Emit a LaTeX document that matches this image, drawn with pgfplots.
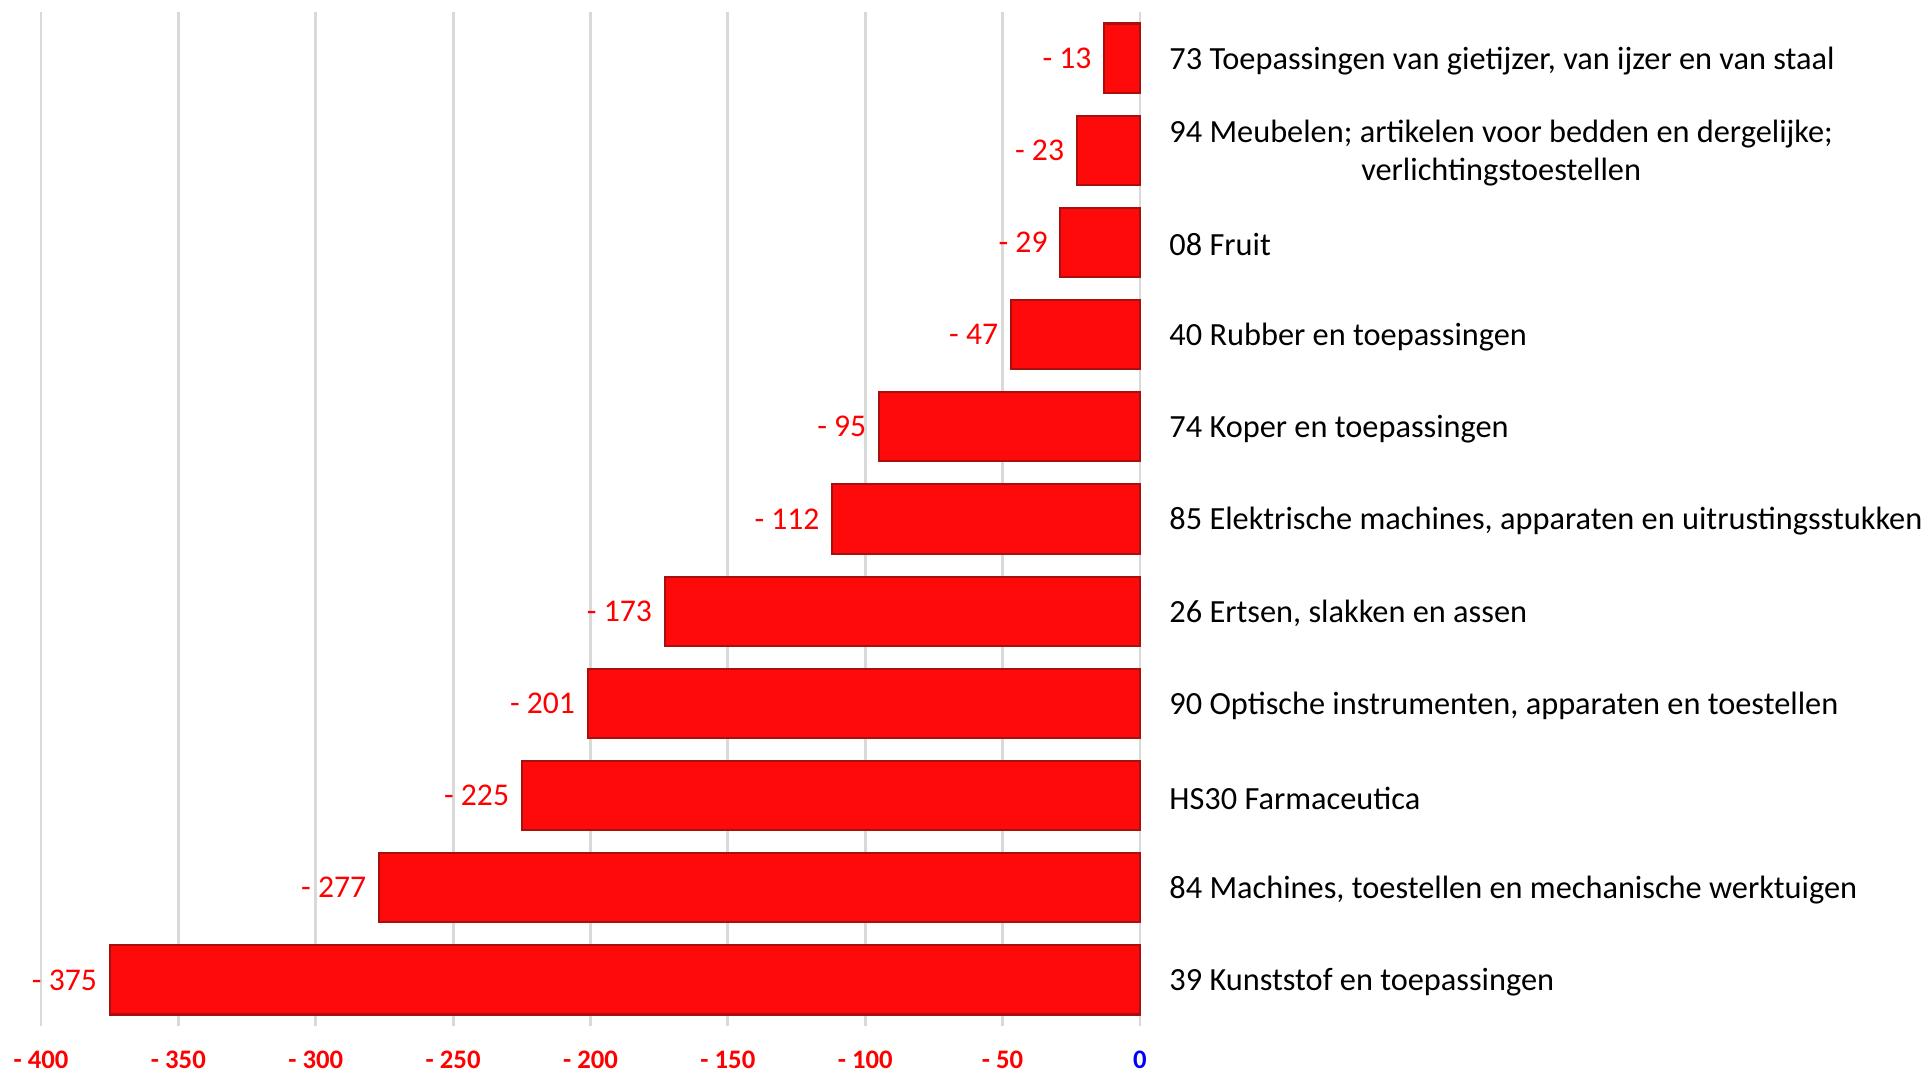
\documentclass[border=0pt]{standalone}
\usepackage{fontspec}
\setmainfont{Carlito}
\usepackage{pgfplots}
\pgfplotsset{compat=1.18}
\definecolor{barred}{HTML}{FF0A0A}
\definecolor{bardark}{HTML}{A81010}
\definecolor{gridgray}{HTML}{D9D9D9}

\begin{document}
\begin{tikzpicture}
\begin{axis}[
  at={(0,0)}, anchor=south west,
  scale only axis,
  width=10.99cm, height=10.14cm,
  xbar, bar width=0.75,
  xmin=-400, xmax=0, ymin=-0.5, ymax=10.5,
  clip=false,
  axis line style={draw=none},
  major tick length=0pt,
  xmajorgrids,
  major grid style={gridgray, line width=0.8pt},
  xtick={-400,-350,-300,-250,-200,-150,-100,-50,0},
  xticklabels={- 400,- 350,- 300,- 250,- 200,- 150,- 100,- 50,\textcolor{blue}{0}},
  xticklabel style={anchor=center, yshift=-0.34cm, text=red,
    font=\bfseries\fontsize{7.6}{9}\selectfont},
  ytick={0,...,10},
  yticklabels={
    39 Kunststof en toepassingen,
    {84 Machines, toestellen en mechanische werktuigen},
    HS30 Farmaceutica,
    {90 Optische instrumenten, apparaten en toestellen},
    {26 Ertsen, slakken en assen},
    {85 Elektrische machines, apparaten en uitrustingsstukken},
    74 Koper en toepassingen,
    40 Rubber en toepassingen,
    08 Fruit,
    {94 Meubelen; artikelen voor bedden en dergelijke;\\verlichtingstoestellen},
    {73 Toepassingen van gietijzer, van ijzer en van staal}
  },
  yticklabel pos=right,
  yticklabel style={anchor=west, align=center, xshift=0.17cm, yshift=-0.025cm,
    text=black, font=\fontsize{9.2}{10.9}\selectfont},
  nodes near coords,
  point meta=explicit symbolic,
  every node near coord/.append style={anchor=east, text=red,
    font=\fontsize{9}{10.5}\selectfont},
]
\addplot[fill=barred, draw=bardark, line width=0.6pt] coordinates {
  (-375,0) [- 375]
  (-277,1) [- 277]
  (-225,2) [- 225]
  (-201,3) [- 201]
  (-173,4) [- 173]
  (-112,5) [- 112]
  (-95,6) [- 95]
  (-47,7) [- 47]
  (-29,8) [- 29]
  (-23,9) [- 23]
  (-13,10) [- 13]
};
\end{axis}
\pgfresetboundingbox
\path (-0.41,-0.45) rectangle (18.91,10.26);
\end{tikzpicture}
\end{document}
